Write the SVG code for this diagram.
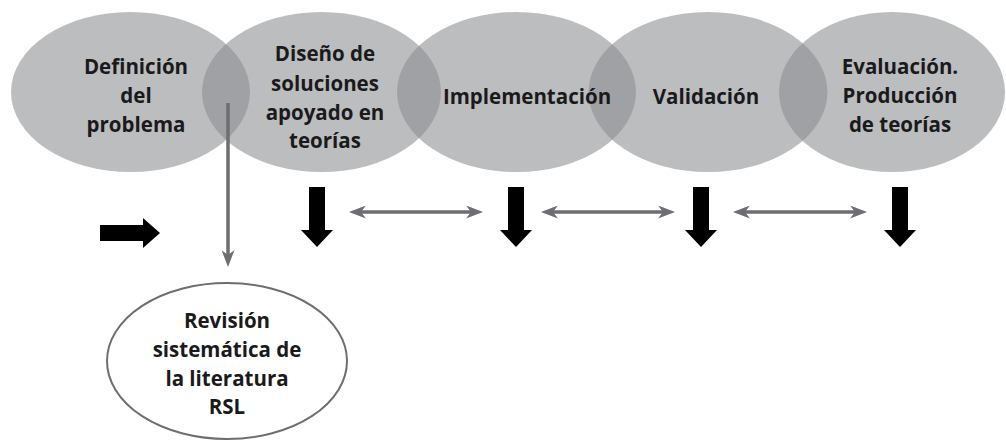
<svg xmlns="http://www.w3.org/2000/svg" width="1006" height="441" viewBox="0 0 1006 441">
<style>
.stage{fill:rgb(140,141,144);fill-opacity:0.58;stroke:none}
.lbl{font-family:"Open Sans","Liberation Sans",sans-serif;font-weight:700;font-size:20.5px;fill:#1a1a1a;text-anchor:middle}
.gl{stroke:#6d6e71;stroke-width:3.5;fill:none}
.blk{fill:#000}
</style>
<defs>
<marker id="ga" markerUnits="userSpaceOnUse" markerWidth="17" markerHeight="13" viewBox="0 0 17 13" refX="5" refY="6.5" orient="auto-start-reverse">
<path d="M0,0 L17,6.5 L0,13 L5,6.5 z" fill="#6d6e71"/>
</marker>
</defs>
<rect width="1006" height="441" fill="#fff"/>
<g id="node-evaluacion">
<ellipse class="stage" cx="892" cy="92" rx="113" ry="80"/>
<text class="lbl" x="900" y="74">Evaluación.</text>
<text class="lbl" x="900" y="103">Producción</text>
<text class="lbl" x="900" y="132">de teorías</text>
</g>
<g id="node-validacion">
<ellipse class="stage" cx="708" cy="92" rx="119.5" ry="80"/>
<text class="lbl" x="706" y="104">Validación</text>
</g>
<g id="node-implementacion">
<ellipse class="stage" cx="516.5" cy="92" rx="119.5" ry="80"/>
<text class="lbl" x="527" y="104">Implementación</text>
</g>
<g id="node-diseno">
<ellipse class="stage" cx="321.5" cy="92" rx="119.5" ry="80"/>
<text class="lbl" x="325" y="61">Diseño de</text>
<text class="lbl" x="325" y="91">soluciones</text>
<text class="lbl" x="325" y="120">apoyado en</text>
<text class="lbl" x="325" y="148">teorías</text>
</g>
<g id="node-definicion">
<ellipse class="stage" cx="130.5" cy="92" rx="119.5" ry="80"/>
<text class="lbl" x="136" y="74">Definición</text>
<text class="lbl" x="136" y="103">del</text>
<text class="lbl" x="136" y="132">problema</text>
</g>
<g id="node-rsl">
<ellipse cx="227" cy="361" rx="120" ry="78" fill="#fff" stroke="#6d6e71" stroke-width="2"/>
<text class="lbl" x="227" y="328">Revisión</text>
<text class="lbl" x="227" y="357">sistemática de</text>
<text class="lbl" x="227" y="386">la literatura</text>
<text class="lbl" x="227" y="414">RSL</text>
</g>
<g id="connectors">
<line class="gl" x1="228" y1="103" x2="228" y2="255" marker-end="url(#ga)"/>
<line class="gl" x1="361" y1="212" x2="471" y2="212" marker-start="url(#ga)" marker-end="url(#ga)"/>
<line class="gl" x1="553" y1="212" x2="663" y2="212" marker-start="url(#ga)" marker-end="url(#ga)"/>
<line class="gl" x1="745" y1="212" x2="855" y2="212" marker-start="url(#ga)" marker-end="url(#ga)"/>
<polygon class="blk" points="100,225 143,225 143,218 160,233 143,248 143,241 100,241"/>
<polygon class="blk" points="309,187 325,187 325,230 333,230 317,247 301,230 309,230"/>
<polygon class="blk" points="508,187 524,187 524,230 532,230 516,247 500,230 508,230"/>
<polygon class="blk" points="693,187 709,187 709,230 717,230 701,247 685,230 693,230"/>
<polygon class="blk" points="892,187 908,187 908,230 916,230 900,247 884,230 892,230"/>
</g>
</svg>
